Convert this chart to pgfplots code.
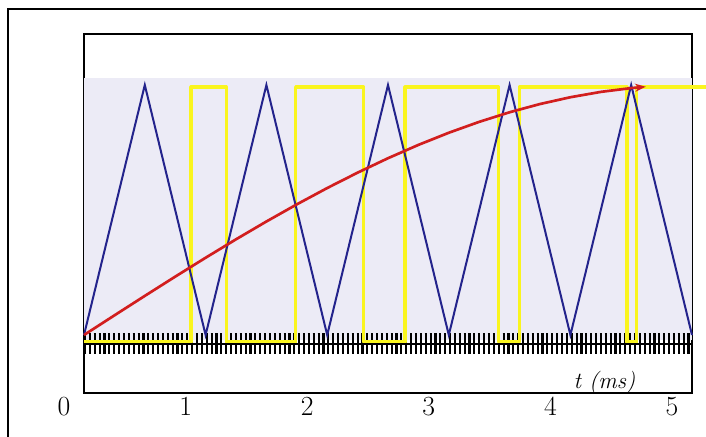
\documentclass[border=0pt]{standalone}
\usepackage{pgfplots}
\pgfplotsset{compat=1.18}
\usetikzlibrary{arrows.meta}
\definecolor{navy}{RGB}{35,35,140}
\definecolor{pwmred}{RGB}{210,30,30}
\definecolor{pwmyel}{RGB}{250,245,30}
\definecolor{shade}{RGB}{236,235,246}
\begin{document}
\begin{tikzpicture}
\useasboundingbox (0,0) rectangle (529.5pt,327pt);
\draw[line width=2.2pt] (6pt,-2pt) -- (6pt,320.25pt) -- (532pt,320.25pt);
\begin{axis}[
  at={(63pt,32.25pt)}, anchor=south west,
  scale only axis, width=456pt, height=269.25pt,
  xmin=0, xmax=5, ymin=-0.232, ymax=1.204,
  xtick={0,1,2,3,4,5}, ytick=\empty,
  major tick length=0pt,
  xticklabel style={xshift=-15pt, yshift=0pt, font=\huge},
  axis line style={line width=0.8pt},
  clip=false,
]
% background shading
\addplot[draw=none, fill=shade, forget plot] coordinates {(0,-0.02) (5,-0.02) (5,1.028) (0,1.028)} -- cycle;
% hatch strip
\addplot[black, line width=15.75pt, dash pattern=on 1.6pt off 2.05pt, forget plot] coordinates {(0,-0.032) (5,-0.032)};
% PWM output
\addplot[pwmyel, line width=2.4pt, line join=round] coordinates {
(0,-0.028) (0.88,-0.028) (0.88,0.992) (1.17,0.992) (1.17,-0.028) (1.74,-0.028) (1.74,0.992) (2.30,0.992) (2.30,-0.028) (2.64,-0.028) (2.64,0.992) (3.41,0.992) (3.41,-0.028) (3.58,-0.028) (3.58,0.992) (4.465,0.992) (4.465,-0.028) (4.545,-0.028) (4.545,0.992) (5.12,0.992)};
\addplot[black, line width=1.4pt] coordinates {(0,-0.036) (5,-0.036)};
% carrier
\addplot[navy, line width=1.5pt] coordinates {
(0,0) (0.5,1) (1,0) (1.5,1) (2,0) (2.5,1) (3,0) (3.5,1) (4,0) (4.5,1) (5,0)};
% reference
\addplot[pwmred, line width=2pt, -{Stealth[length=8pt,width=6pt]}] coordinates {
(0,0) (0.25,0.0785) (0.5,0.1564) (0.75,0.2334) (1.0,0.3090) (1.25,0.3827) (1.5,0.4540) (1.75,0.5225) (2.0,0.5878) (2.25,0.6494) (2.5,0.7071) (2.75,0.7604) (3.0,0.8090) (3.25,0.8526) (3.5,0.8910) (3.75,0.9239) (4.0,0.9511) (4.25,0.9724) (4.5,0.9877) (4.62,0.9930)};
\node[font=\LARGE\itshape] at (axis cs:4.28,-0.19) {t (ms)};
\end{axis}
\end{tikzpicture}
\end{document}
